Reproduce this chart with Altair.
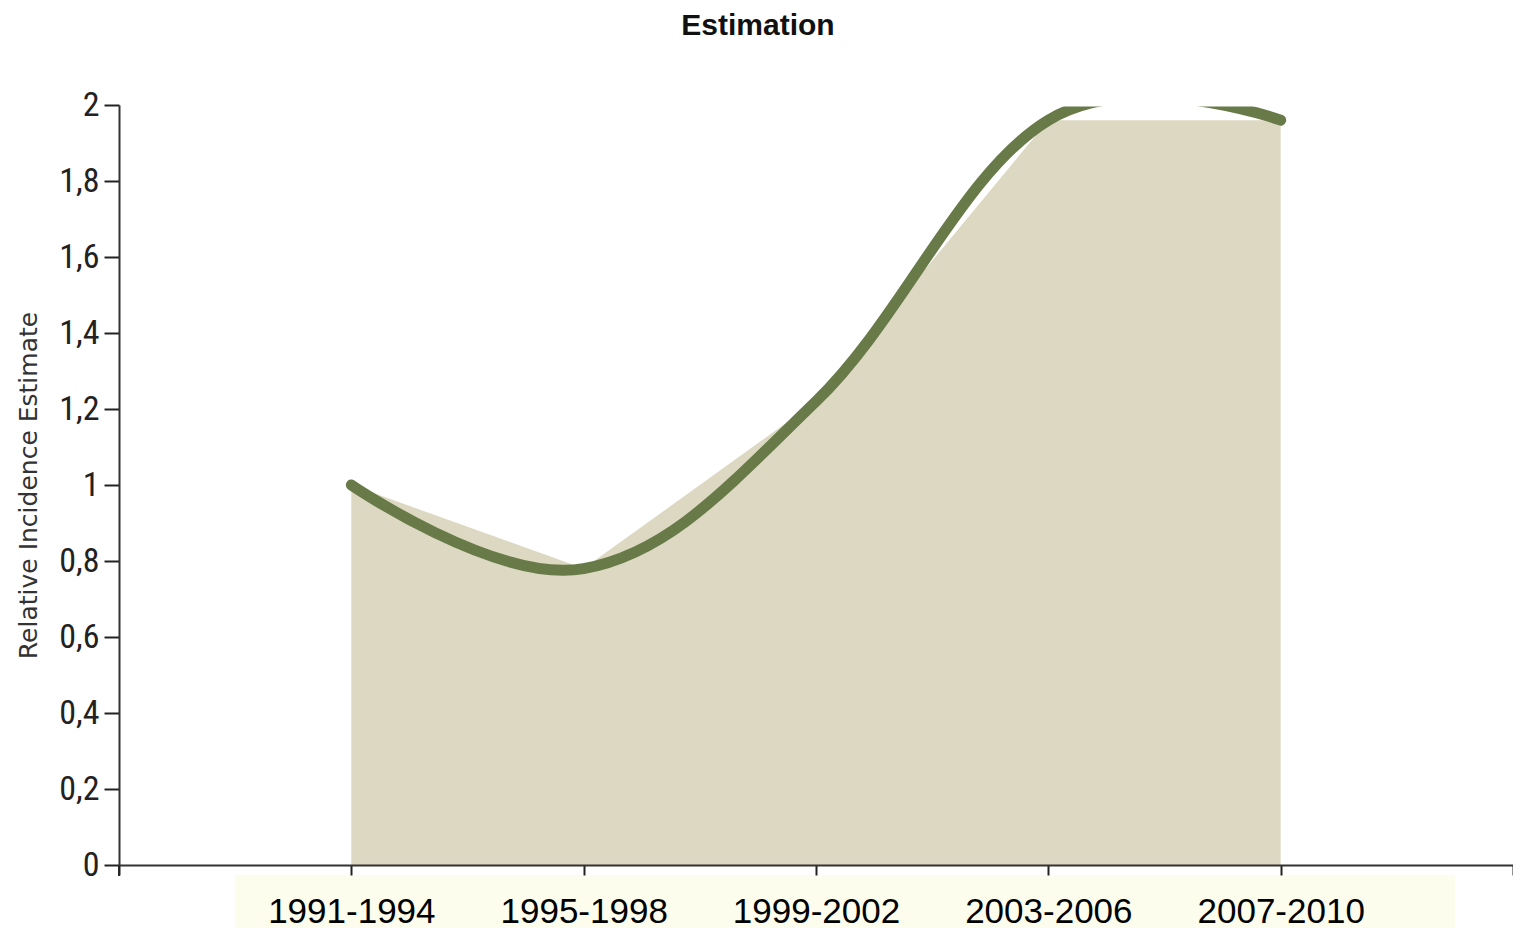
import altair as alt
import pandas as pd

# ---- data ----
categories = ["1991-1994", "1995-1998", "1999-2002", "2003-2006", "2007-2010"]
positions = [1, 2, 3, 4, 5]
estimates = [1.0, 0.78, 1.22, 1.96, 1.96]

x_tick_values = [0, 1, 2, 3, 4, 5, 6]
x_tick_labels = [""] + categories + [""]
y_tick_values = [0, 0.2, 0.4, 0.6, 0.8, 1.0, 1.2, 1.4, 1.6, 1.8, 2.0]
y_tick_labels = ["0", "0,2", "0,4", "0,6", "0,8", "1", "1,2", "1,4", "1,6", "1,8", "2"]

df = pd.DataFrame({"pos": positions, "period": categories, "estimate": estimates})

W, H = 1394, 760
LINE = "#677a48"
FILL = "#ddd8c2"
BAND = "#fdfdee"

x_label_expr = "[" + ",".join("'%s'" % s for s in x_tick_labels) + "][round(datum.value)]"
y_label_expr = "[" + ",".join("'%s'" % s for s in y_tick_labels) + "][round(datum.value*5)]"

x_enc = alt.X(
    "pos:Q",
    scale=alt.Scale(domain=[0, 6], nice=False, zero=False),
    axis=alt.Axis(
        values=x_tick_values,
        labelExpr=x_label_expr,
        title=None,
        grid=False,
        tickSize=10,
        tickWidth=2,
        tickColor="#222222",
        domainColor="#333333",
        domainWidth=2,
        labelFont="Liberation Sans",
        labelFontSize=35,
        labelColor="#000000",
        labelBaseline="alphabetic",
        labelPadding=47,
        labelFlush=False,
        labelOverlap=False,
        zindex=1,
    ),
)

y_enc = alt.Y(
    "estimate:Q",
    scale=alt.Scale(domain=[0, 2], nice=False, zero=True),
    axis=alt.Axis(
        values=y_tick_values,
        labelExpr=y_label_expr,
        title="Relative Incidence Estimate",
        grid=False,
        tickSize=15,
        tickWidth=2,
        tickColor="#222222",
        domainColor="#333333",
        domainWidth=2,
        labelFont="Liberation Sans Narrow, Roboto Condensed, Liberation Sans",
        labelFontSize=34,
        labelColor="#222222",
        labelPadding=5,
        labelBaseline="middle",
        labelOverlap=False,
        titleFont="DejaVu Sans",
        titleFontSize=25,
        titleFontWeight="normal",
        titleColor="#333333",
        titleAngle=270,
        titleAlign="center",
        titleBaseline="middle",
        titleX=-91,
        titleY=H / 2,
        zindex=1,
    ),
)

one = pd.DataFrame({"k": [0]})

band = alt.Chart(one).mark_rect(color=BAND).encode(
    x=alt.value(116), x2=alt.value(1336), y=alt.value(770), y2=alt.value(823)
)

# small extension of the y-axis line below zero, as in the reference
axis_ext = alt.Chart(one).mark_rule(color="#333333", strokeWidth=2).encode(
    x=alt.value(0), y=alt.value(H), y2=alt.value(H + 11)
)

# white mask at the top edge of the plot: the smoothed line is cut there
top_mask = alt.Chart(one).mark_rect(color="white").encode(
    x=alt.value(1.5), x2=alt.value(W + 1), y=alt.value(-17), y2=alt.value(1.5)
)

area = alt.Chart(df).mark_area(interpolate="linear", color=FILL, opacity=1).encode(
    x=x_enc, y=y_enc
)

line = alt.Chart(df).mark_line(
    interpolate="cardinal",
    tension=-0.12,
    strokeWidth=11,
    strokeCap="round",
    color=LINE,
).encode(x=alt.X("pos:Q"), y=alt.Y("estimate:Q"))

chart = (
    alt.layer(band, area, line, top_mask, axis_ext)
    .properties(
        width=W,
        height=H,
        autosize=alt.AutoSizeParams(type="none"),
        padding={"left": 111, "top": 97, "right": 0, "bottom": 63},
        title=alt.Title(
            "Estimation",
            font="Liberation Sans",
            fontSize=30,
            fontWeight="bold",
            color="#111111",
            anchor="middle",
            frame="group",
            dx=-58,
            offset=34,
        ),
    )
    .configure_view(stroke="white", strokeWidth=0, fill="white")
    .configure(background="white")
)

chart.save("out.html", embed_options={"renderer": "svg", "actions": False})
